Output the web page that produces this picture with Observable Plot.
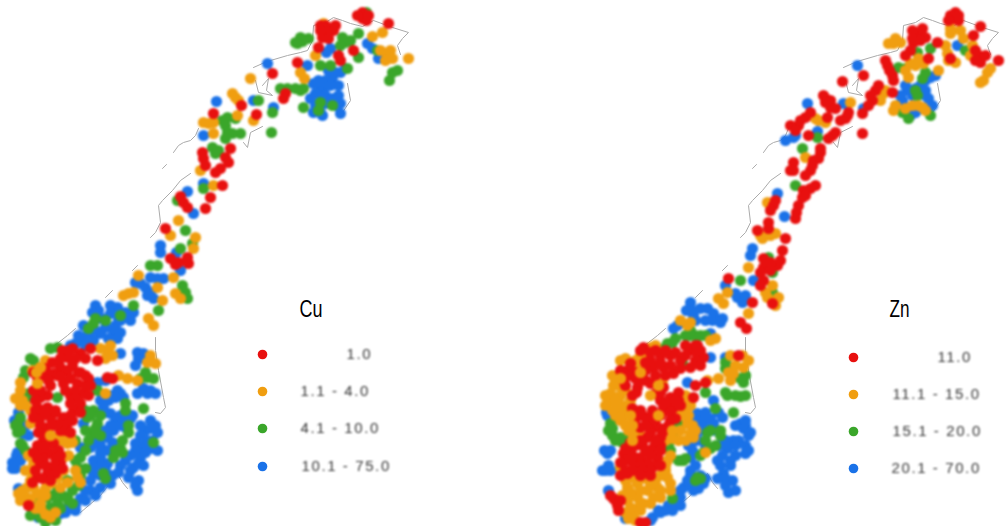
<!DOCTYPE html>
<html><head><meta charset="utf-8">
<script src="https://cdn.jsdelivr.net/npm/d3@7"></script>
<script src="https://cdn.jsdelivr.net/npm/@observablehq/plot@0.6"></script>
<style>html,body{margin:0;padding:0;background:#fff}svg{display:block}</style>
</head><body><div id="c"></div><script>
const classColors = ["#e8100f","#f09e10","#3aa62a","#1a72e8"];
const cuLabels = ["1.0","1.1 - 4.0","4.1 - 10.0","10.1 - 75.0"];
const znLabels = ["11.0","11.1 - 15.0","15.1 - 20.0","20.1 - 70.0"];
const cuBlue = [[98,310],[95,305],[117,307],[128,315],[133,312],[83,325],[100,333],[113,330],[120,332],[117,338],[75,343],[83,340],[120,353],[137,352],[143,353],[135,365],[147,295],[153,298],[150,277],[163,278],[180,270],[135,282],[97,382],[117,390],[123,397],[137,393],[147,393],[155,393],[103,407],[110,413],[115,420],[123,420],[132,415],[113,430],[107,437],[97,442],[80,447],[83,423],[150,420],[157,432],[145,430],[147,440],[135,443],[157,450],[140,457],[133,467],[128,477],[138,480],[137,490],[100,457],[107,463],[93,460],[93,473],[110,483],[100,487],[90,490],[80,498],[67,507],[60,513],[38,517],[18,488],[15,468],[12,468],[17,452],[18,412],[23,433],[28,435],
[105,412],[110,425],[120,425],[125,427],[105,430],[120,415],[130,418],[100,445],[90,447],[140,425],[150,428],[155,425],[152,440],[140,435],[143,445],[135,450],[130,455],[150,448],[145,452],[138,463],[143,465],[130,470],[135,485],[100,465],[93,467],[100,475],[105,470],[112,475],[90,480],[85,490],[75,505],[65,512],[120,393],[115,397],[143,388],[150,390],[138,358],[143,358],[92,312],[105,318],[110,305],[125,312],[130,320],[118,318],[88,332],[93,340],[105,327],[108,338],[115,325],[78,335],[70,345],[85,345],[145,287],[150,292],[157,278],[140,283],[16,455],[20,460],[14,420],
[107,450],[112,442],[100,452],[125,460],[120,465],[118,472],[95,495],[85,500],[75,510],[100,400],[108,400],[105,380],[110,395],[100,318],[110,313],[120,320],[95,330],[25,425],[12,462],
[378,58],[326,52],[307,65],[332,77],[340,72],[320,88],[327,85],[313,83],[310,98],[338,95],[340,113],[313,112],[320,112],[340,103],[367,43],[267,63],[216,101],[253,100],[273,107],[203,135],[203,183],[187,191],[193,213],[160,245],[160,252],[176,252],
[325,80],[330,85],[320,92],[335,72],[328,70],[318,80],[345,68],[325,95],[315,105],[322,115],[335,105],[372,48],[330,48],[338,85],[315,93],[325,103],[332,98]];
const cuGreen = [[30,358],[57,347],[50,348],[23,377],[28,393],[57,397],[20,417],[17,423],[20,443],[93,410],[97,423],[87,417],[93,433],[80,457],[77,467],[67,480],[57,490],[67,497],[47,497],[37,500],[40,517],[50,507],[57,503],[143,408],[125,403],[128,432],[120,448],[113,457],[153,442],[147,377],[153,378],[140,378],[158,310],[185,292],[187,298],[182,285],[157,265],[150,265],[93,323],[133,305],[97,390],[103,473],
[17,432],[15,425],[22,445],[25,450],[20,430],[85,410],[90,415],[100,415],[85,430],[95,428],[100,435],[75,440],[88,440],[75,460],[85,468],[80,475],[72,490],[78,485],[62,495],[60,508],[52,495],[30,505],[30,515],[45,522],[55,520],[68,500],[72,503],[125,410],[128,425],[122,440],[115,450],[122,452],[105,478],[88,328],[95,318],[105,320],[120,315],
[25,400],[30,395],[33,360],[25,370],[85,450],[145,372],
[302,41],[345,42],[358,33],[358,57],[320,65],[347,68],[397,70],[389,80],[303,88],[287,88],[227,117],[227,132],[240,133],[271,132],[272,112],[258,100],[212,147],[215,153],[303,107],[320,102],[177,200],[203,188],[185,230],[192,243],[180,248],[377,50],[366,12],
[300,37],[297,43],[308,38],[340,45],[350,40],[342,37],[392,72],[295,88],[300,90],[280,88],[330,65],[318,110],[332,105],[225,125],[222,120],[235,118],[232,133],[225,138],[218,150],[295,42]];
const cuOrange = [[107,350],[100,348],[112,355],[40,367],[37,383],[15,398],[20,390],[30,410],[30,423],[50,435],[67,443],[70,437],[63,457],[33,460],[30,470],[63,470],[27,487],[25,497],[37,493],[50,483],[67,482],[77,477],[40,503],[50,517],[40,508],[128,293],[133,292],[123,295],[138,275],[173,277],[157,287],[175,293],[180,298],[162,300],[148,318],[153,325],[150,355],[155,363],[127,378],[118,375],[137,380],[105,393],
[20,500],[22,490],[30,498],[33,487],[45,488],[60,487],[75,470],[80,482],[57,477],[30,480],[35,508],[45,514],[25,470],[28,455],[33,465],[62,440],[72,442],[58,437],[68,455],[55,512],[45,495],[105,358],[110,345],[45,360],[32,370],
[22,400],[25,405],[20,405],[20,382],[18,493],[147,362],
[387,55],[408,58],[382,32],[372,36],[300,72],[250,78],[235,97],[253,120],[208,123],[213,133],[237,115],[200,170],[213,185],[178,220],[170,235],[195,237],[193,248],[315,55],[323,23],
[380,50],[385,60],[390,50],[392,58],[304,78],[232,93],[238,100],[203,122],[213,122]];
const cuRed = [[80,353],[90,348],[67,357],[60,367],[37,377],[43,375],[53,373],[67,370],[63,383],[77,383],[83,393],[80,403],[73,410],[37,407],[47,407],[40,417],[50,417],[63,417],[47,427],[60,430],[67,423],[43,440],[53,443],[40,450],[50,453],[58,450],[40,463],[50,467],[60,463],[37,477],[47,473],[55,473],[28,505],[97,360],[112,378],[107,377],[72,348],[47,395],[70,395],[175,264],[188,263],
[62,350],[68,350],[60,358],[75,358],[85,358],[57,375],[72,365],[60,376],[70,378],[75,390],[85,385],[88,395],[75,398],[40,397],[35,400],[42,412],[55,412],[70,403],[65,390],[50,385],[35,410],[33,417],[45,412],[55,410],[70,415],[72,420],[58,423],[52,425],[40,425],[65,430],[38,432],[45,447],[37,445],[43,458],[33,452],[55,458],[60,455],[45,465],[35,470],[55,465],[62,468],[42,478],[32,482],[50,480],
[33,372],[45,368],[52,362],[48,380],[40,390],[33,390],[85,375],[78,372],[88,378],[90,385],[70,432],[45,435],[37,458],[80,412],[80,372],
[362,18],[366,20],[327,32],[322,37],[318,47],[388,23],[353,50],[338,55],[297,62],[272,73],[283,98],[241,105],[256,114],[213,113],[230,148],[225,157],[220,168],[203,158],[222,185],[210,197],[205,208],[183,202],[165,228],[170,258],[187,257],
[320,25],[325,25],[333,30],[320,30],[335,25],[328,38],[362,12],[357,15],[368,15],[340,60],[205,165],[202,152],[228,162],[215,172],[187,207],[180,196],[178,262],[285,93]];
const cuOrangeOver = [[50,435],[37,383],[40,367],[36,372]];
const znBlue = [[690,308],[693,315],[707,308],[713,313],[722,318],[673,328],[710,333],[710,357],[725,357],[737,297],[742,302],[753,280],[725,285],[687,382],[713,400],[697,413],[703,423],[713,423],[722,417],[697,440],[688,445],[740,423],[748,435],[733,440],[727,448],[745,453],[717,460],[730,460],[723,473],[717,478],[732,480],[728,492],[690,470],[693,490],[703,483],[683,487],[680,497],[673,503],[658,510],[652,517],[625,518],[653,480],[608,490],[605,470],[607,453],[607,415],[690,457],[745,425],
[735,425],[743,428],[750,432],[745,420],[738,440],[725,440],[718,445],[735,445],[745,445],[722,455],[735,455],[748,450],[730,465],[720,465],[725,478],[735,490],[725,485],[700,420],[710,418],[718,412],[705,412],[695,420],[700,430],[692,450],[690,445],[695,465],[700,475],[687,480],[680,490],[690,482],[698,488],[705,478],[668,505],[675,500],[660,512],[665,510],[650,520],[690,302],[686,310],[695,320],[700,308],[712,320],[720,322],[677,325],[705,320],[735,293],[745,295],[602,470],[608,465],[604,450],[610,450],[606,412],[610,470],
[705,445],[712,430],[690,475],[680,505],[672,510],
[857,65],[807,103],[843,103],[863,108],[793,137],[817,131],[907,90],[915,88],[902,100],[930,77],[928,98],[932,105],[910,115],[957,45],[777,193],[784,216],[752,248],[750,255],
[912,95],[905,85],[920,85],[900,95],[925,80],[935,75],[925,95],[905,110],[915,112],[785,140],[795,135],[925,90]];
const znGreen = [[772,272],[772,292],[740,280],[695,335],[690,335],[667,343],[617,398],[610,423],[612,435],[620,437],[682,363],[673,423],[725,368],[743,382],[727,395],[735,395],[745,395],[705,392],[715,408],[733,412],[707,432],[720,435],[710,448],[703,452],[670,450],[678,460],[683,460],[697,477],[672,498],
[612,428],[608,430],[615,440],[622,442],[628,437],[680,425],[675,430],[668,445],[680,460],[685,458],[700,478],[695,480],[665,347],[672,342],[700,335],[690,330],[710,430],[720,430],[705,440],[715,445],[700,455],[725,362],[740,378],[745,375],[740,396],[725,392],[705,335],[685,335],[675,338],
[917,52],[930,48],[898,67],[922,78],[917,95],[902,112],[930,115],[817,137],[802,148],[795,185],[965,50],[768,257],
[905,68],[925,72],[915,90],[908,118]];
const znOrange = [[620,360],[647,353],[637,367],[615,380],[610,393],[607,402],[630,400],[623,410],[620,420],[633,423],[633,437],[662,383],[687,400],[683,410],[687,423],[690,433],[670,430],[667,460],[620,467],[630,477],[627,487],[637,483],[647,490],[627,500],[637,497],[657,487],[667,477],[670,483],[653,497],[635,510],[633,517],[643,503],[710,340],[687,325],[718,298],[723,303],[727,292],[748,267],[748,313],[767,297],[778,297],[707,380],[718,378],[730,380],[733,373],[743,367],[730,355],[705,452],
[625,480],[635,477],[645,478],[655,480],[665,470],[670,490],[660,490],[650,485],[640,490],[630,492],[622,495],[640,503],[650,503],[660,497],[630,507],[640,510],[625,512],[635,520],[628,518],[613,385],[610,400],[605,395],[620,395],[625,390],[622,405],[630,410],[615,415],[625,425],[628,430],[640,435],[635,430],[685,395],[690,405],[680,415],[692,425],[693,437],[680,430],[672,438],[665,440],[665,465],[670,455],[625,358],[635,360],[640,355],[650,347],[772,285],[765,292],[775,305],
[605,405],[612,410],[618,408],[622,415],[615,400],[612,375],[618,385],[628,415],[688,415],[695,430],[685,440],[678,440],[680,320],[690,322],[715,338],[655,345],[735,365],[742,355],[748,360],[728,372],[660,475],
[893,43],[950,33],[963,38],[947,53],[970,55],[987,72],[980,82],[938,70],[910,63],[908,77],[883,93],[893,110],[912,105],[922,107],[818,120],[805,157],[767,202],[762,238],[775,233],[850,102],[923,63],
[888,43],[900,42],[895,38],[905,70],[915,65],[918,58],[945,45],[948,60],[955,62],[960,30],[950,28],[983,80],[990,68],[972,45],[815,118],[825,122],[770,235],[760,235],[918,105],[925,110],[905,108],[895,105],[885,90],[880,100]];
const znRed = [[763,267],[777,265],[763,280],[728,278],[752,302],[740,322],[746,328],[772,303],[643,347],[660,355],[670,355],[690,350],[697,353],[703,357],[680,360],[653,367],[663,367],[673,373],[690,367],[627,370],[630,363],[623,380],[637,387],[650,383],[663,387],[670,397],[673,407],[663,407],[660,415],[645,417],[640,427],[653,427],[647,437],[660,437],[653,447],[630,450],[623,453],[640,457],[633,463],[647,463],[657,457],[627,473],[613,498],[617,505],[640,522],[705,382],[693,397],[738,355],
[650,352],[655,350],[665,350],[675,352],[685,345],[695,345],[685,355],[695,360],[700,365],[650,360],[660,362],[670,365],[680,368],[645,370],[655,375],[665,375],[630,375],[620,370],[635,378],[625,385],[640,380],[678,392],[678,400],[680,405],[670,412],[675,418],[668,425],[655,420],[650,432],[642,445],[635,445],[660,445],[650,455],[660,450],[625,460],[640,465],[632,455],[620,462],[655,465],[650,470],[660,465],[642,470],[632,470],[620,475],[615,500],[610,495],[620,500],[618,510],[645,522],[760,272],[770,270],[780,260],[770,262],[760,285],[695,385],
[645,380],[632,395],[660,400],[665,402],[655,393],[642,415],[650,418],[635,418],[645,425],[660,428],[670,420],[675,400],[662,432],[640,440],[630,442],[625,448],[645,450],[655,440],[625,470],[640,475],[650,475],[622,372],[635,372],[645,362],[640,350],[700,350],[697,345],[640,410],[632,408],[652,410],[660,392],[636,392],
[953,18],[958,20],[980,26],[973,35],[917,33],[913,42],[937,42],[910,50],[928,58],[978,55],[998,60],[980,62],[950,58],[887,65],[892,75],[863,75],[842,81],[825,98],[830,107],[875,90],[872,100],[892,92],[845,118],[847,115],[862,113],[862,133],[832,135],[805,117],[798,125],[827,117],[820,152],[813,160],[810,170],[793,162],[790,170],[810,188],[802,197],[796,212],[773,205],[768,222],[757,230],[785,238],[782,250],[763,258],
[912,30],[922,28],[925,37],[912,38],[920,40],[905,55],[950,15],[955,12],[958,15],[948,20],[975,50],[975,60],[985,55],[889,70],[893,80],[885,60],[870,95],[878,85],[868,105],[823,95],[830,100],[835,108],[825,102],[840,120],[848,112],[835,132],[828,138],[800,120],[790,125],[810,112],[795,130],[808,135],[820,148],[818,158],[812,165],[805,175],[793,170],[815,185],[803,190],[805,195],[798,205],[795,218],[770,210],[775,200],[768,228]];
const znOrangeOver = [[658,385],[658,415],[632,425],[630,415],[672,430],[640,372],[620,378],[632,440],[650,395]];
const coastPieces = [
 [[162,168],[166,164]],
 [[173,152],[178,145],[183,142],[190,140],[195,135],[198,128]],
 [[150,237],[155,232],[160,222],[158,205],[162,200],[172,190],[180,180],[190,173]],
 [[253,67],[262,63],[270,60],[287,55],[300,52],[307,50],[312,40],[313,25],[325,22],[333,17],[342,20],[350,23],[362,26],[373,20],[392,27],[408,32],[402,38],[397,45],[400,54]],
 [[262,85],[268,78],[266,90],[272,95],[258,92],[255,80]],
 [[347,83],[350,100],[342,112]],
 [[262,126],[250,132],[247,147],[243,142]],
 [[155,337],[155,350],[158,370],[163,397],[165,407],[160,413],[155,412]],
 [[80,512],[100,495],[117,473],[122,482],[127,488]],
 [[47,350],[58,342],[67,335],[75,328]],
 [[105,297],[112,290]],[[132,270],[137,265]]
];
const titleCols = [["Cu",299,cuLabels,262,[354,391,428,466],[346,300,300,301]],["Zn",889,znLabels,853,[357,394,431,468],[937,892,892,891]]];

const toDots = (arr, cls) => arr.map(([x,y]) => ({x,y,cls}));
const dots = [cuBlue,cuGreen,cuOrange,cuRed].flatMap((a,i)=>toDots(a,3-i))
  .concat([znBlue,znGreen,znOrange,znRed].flatMap((a,i)=>toDots(a,3-i)))
  .concat(toDots(cuOrangeOver,1),toDots(znOrangeOver,1));
const coast = [0,590].flatMap(off => coastPieces.flatMap((p,i)=>p.map(([x,y])=>({x:x+off,y,k:off+"-"+i}))));
const legendDots = titleCols.flatMap(t=>t[4].map((y,i)=>({x:t[3],y,cls:i})));
const legendText = titleCols.flatMap(t=>t[4].map((y,i)=>({x:t[5][i],y,label:t[2][i]})));
const titles = titleCols.map(t=>({x:t[1],y:309,label:t[0]}));

const chart = Plot.plot({
  width:1008,height:526,margin:0,
  x:{domain:[0,1008],range:[0,1008],axis:null},
  y:{domain:[0,526],range:[0,526],axis:null},
  color:{domain:[0,1,2,3],range:classColors,type:"ordinal"},
  marks:[
    Plot.line(coast,{x:"x",y:"y",z:"k",stroke:"#aaa",strokeWidth:1,imageFilter:"blur(0.6px)"}),
    Plot.dot(dots,{x:"x",y:"y",r:5.6,fill:"cls",imageFilter:"blur(0.8px)"}),
    Plot.dot(legendDots,{x:"x",y:"y",r:4.8,fill:"cls",imageFilter:"blur(0.7px)"}),
    Plot.text(legendText,{x:"x",y:"y",text:"label",textAnchor:"start",fontSize:15,fontFamily:"Liberation Sans",fill:"#333",imageFilter:"blur(0.8px)"}),
    Plot.text(titles,{x:"x",y:"y",text:"label",textAnchor:"start",fontSize:23,fontFamily:"Liberation Sans",fill:"#000"})
  ]
});
chart.querySelectorAll("g[aria-label=text] text").forEach(t=>{
  if(t.textContent.includes(".")) t.style.letterSpacing="1.6px";
  else { t.setAttribute("textLength", t.textContent==="Cu"?23:20); t.setAttribute("lengthAdjust","spacingAndGlyphs"); }
});
document.getElementById("c").appendChild(chart);
</script></body></html>
